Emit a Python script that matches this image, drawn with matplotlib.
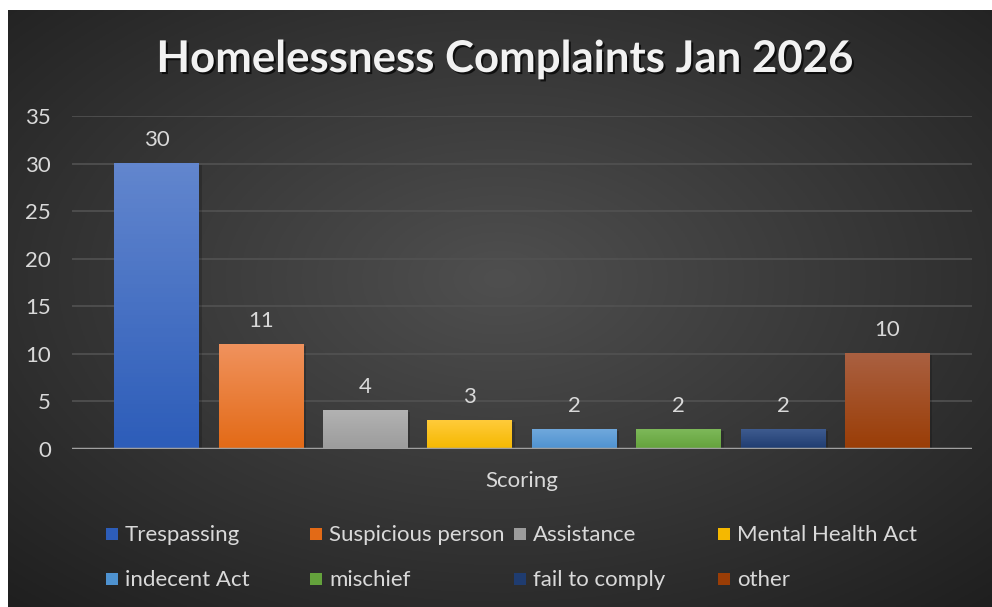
import numpy as np
import matplotlib.pyplot as plt
import matplotlib.patheffects as pe
from matplotlib.colors import to_rgb
from matplotlib.patches import Rectangle

plt.rcParams['font.family'] = ['Lato', 'DejaVu Sans']

categories = ['Trespassing', 'Suspicious person', 'Assistance', 'Mental Health Act',
              'indecent Act', 'mischief', 'fail to comply', 'other']
counts = [30, 11, 4, 3, 2, 2, 2, 10]
top_colors = ['#6286CE', '#F0925D', '#B2B2B2', '#FFCB3A', '#70A8DC', '#7DB859', '#3E5B8F', '#AA6041']
bottom_colors = ['#2D5DB9', '#E36A16', '#9C9C9C', '#F5B800', '#4E92D0', '#64A23C', '#1F3C70', '#9A3D06']
yticks = [0, 5, 10, 15, 20, 25, 30, 35]

W, H = 992, 607
fig = plt.figure(figsize=(W / 100, H / 100), dpi=100)
fig.patch.set_facecolor('white')

# dark radial background panel
bg = fig.add_axes([8 / W, 0, 984 / W, 597 / H])
bg.set_axis_off()
yy, xx = np.mgrid[0:1:300j, 0:1:500j]
r = np.sqrt(((xx - 0.5) / 0.75) ** 2 + ((yy - 0.45) / 0.75) ** 2)
shade = np.clip(0.31 - 0.19 * r, 0.12, 0.31)
bg.imshow(np.dstack([shade] * 3), extent=[0, 1, 0, 1], aspect='auto', origin='upper')
bg.set_xlim(0, 1)
bg.set_ylim(0, 1)

ax = fig.add_axes([72 / W, 1 - 449 / H, 900 / W, 333 / H])
ax.set_facecolor('none')
for s in ax.spines.values():
    s.set_visible(False)

x = np.arange(len(categories))
bars = ax.bar(x, counts, width=0.813, color=bottom_colors, zorder=3)

# vertical gradients + soft shadow
for b, c1, c2 in zip(bars, top_colors, bottom_colors):
    bx, by, bw, bh = b.get_x(), b.get_y(), b.get_width(), b.get_height()
    ax.add_patch(Rectangle((bx + 0.025, by), bw, bh - 0.15, color='black', alpha=0.18,
                           zorder=2, lw=0))
    t = np.linspace(0, 1, 64)[:, None]
    grad = (1 - t) * np.array(to_rgb(c1)) + t * np.array(to_rgb(c2))
    ax.imshow(grad[:, None, :].repeat(2, axis=1), extent=[bx, bx + bw, by, by + bh],
              aspect='auto', zorder=3, origin='upper')
    ax.annotate(str(int(bh)), (bx + bw / 2, bh), xytext=(0, 17), textcoords='offset points',
                ha='center', va='center', color='#D9D9D9', fontsize=16)

ax.set_xlim(-0.81, 7.81)
ax.set_ylim(0, 35)
ax.set_xticks([])
ax.set_yticks(yticks)
ax.tick_params(axis='y', length=0, pad=15, labelsize=16, labelcolor='#D9D9D9')
ax.grid(axis='y', color='#525252', lw=1.2, zorder=0)
ax.axhline(0, color='#A0A0A0', lw=2.5, zorder=4)

title = fig.text(505 / W, 1 - 59 / H, 'Homelessness Complaints Jan 2026', ha='center',
                 va='center', color='#F2F2F2', fontsize=31.5, fontweight='bold')
title.set_path_effects([pe.SimplePatchShadow(offset=(1.5, -1.5), shadow_rgbFace='black',
                                             alpha=0.7), pe.Normal()])

fig.text(522 / W, 1 - 481 / H, 'Scoring', ha='center', va='center', color='#D9D9D9',
         fontsize=16)

# legend, 4 equal columns x 2 rows
col_x = [106, 310, 514, 718]
row_y = [534, 579]
for i, (name, c1, c2) in enumerate(zip(categories, top_colors, bottom_colors)):
    px, py = col_x[i % 4], row_y[i // 4]
    fig.patches.append(Rectangle((px / W, 1 - (py + 6) / H), 12 / W, 12 / H,
                                 transform=fig.transFigure, color=c2, lw=0))
    fig.text((px + 19) / W, 1 - (py + 1) / H, name, ha='left', va='center', color='#D9D9D9',
             fontsize=16)

fig.savefig('out.png', dpi=100)
